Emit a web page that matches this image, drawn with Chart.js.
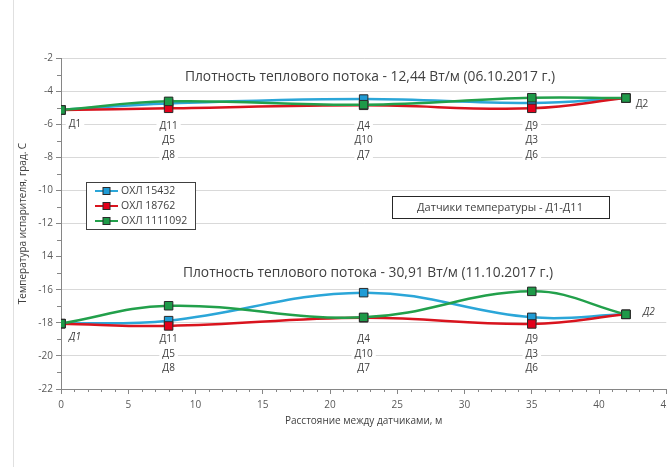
<!DOCTYPE html>
<html>
<head>
<meta charset="utf-8">
<script src="https://cdn.jsdelivr.net/npm/chart.js@4/dist/chart.umd.min.js"></script>
<style>
  html, body { margin: 0; padding: 0; background: #fff; overflow: hidden; }
</style>
</head>
<body>
<canvas id="chart" width="677" height="467"></canvas>
<script>
// distances between sensors, m
const distances = [0, 8, 22.5, 35, 42];

// 06.10.2017
const top15432 = [-5.14, -4.75, -4.48, -4.72, -4.42];
const top18762 = [-5.14, -5.04, -4.86, -5.04, -4.42];
const top1111092 = [-5.14, -4.62, -4.82, -4.40, -4.42];

// 11.10.2017
const low15432 = [-18.05, -17.87, -16.18, -17.67, -17.49];
const low18762 = [-18.05, -18.19, -17.70, -18.07, -17.49];
const low1111092 = [-18.05, -16.97, -17.67, -16.10, -17.49];

const seriesNames = ['ОХЛ 15432', 'ОХЛ 18762', 'ОХЛ 1111092'];

const sensorLabels = [['Д1'], ['Д11', 'Д5', 'Д8'], ['Д4', 'Д10', 'Д7'], ['Д9', 'Д3', 'Д6'], ['Д2']];

const titleTop = 'Плотность теплового потока - 12,44 Вт/м (06.10.2017 г.)';
const titleLow = 'Плотность теплового потока - 30,91 Вт/м (11.10.2017 г.)';
const noteText = 'Датчики температуры - Д1-Д11';

const lineColors = ['#2ba6d8', '#d9141e', '#22a04b'];
const markColors = ['#1f9bd5', '#e3001b', '#1e9a48'];
const FONT = "'Open Sans', 'Noto Sans', sans-serif";

function pts(vals) {
    return vals.map((v, i) => ({ x: distances[i], y: v }));
}

function ds(vals, k) {
    return {
        label: seriesNames[k],
        data: pts(vals),
        borderColor: lineColors[k],
        backgroundColor: markColors[k],
        borderWidth: 2.5,
        tension: 0.4,
        pointStyle: 'rect',
        pointRadius: 6,
        pointBorderColor: '#2a2a2a',
        pointBorderWidth: 1,
        order: 3 - k,
        fill: false
    };
}

const extras = {
    id: 'extras',
    afterDatasetsDraw(chart) {
        const ctx = chart.ctx;
        const xs = chart.scales.x;
        const ys = chart.scales.y;
        const area = chart.chartArea;

        // minor ticks
        ctx.save();
        ctx.strokeStyle = '#868686';
        ctx.lineWidth = 1;
        ctx.beginPath();
        for (let v = -3; v >= -21; v -= 2) {
            const py = Math.round(ys.getPixelForValue(v)) + 0.5;
            ctx.moveTo(area.left - 4, py);
            ctx.lineTo(area.left, py);
        }
        for (let v = 1; v <= 45; v++) {
            if (v % 5 === 0) continue;
            const px = Math.round(xs.getPixelForValue(v)) + 0.5;
            ctx.moveTo(px, area.bottom);
            ctx.lineTo(px, area.bottom + 3);
        }
        ctx.stroke();
        ctx.restore();

        // sensor labels
        function label(text, x, y, italic) {
            ctx.font = (italic ? 'italic ' : '') + '10px ' + FONT;
            const w = ctx.measureText(text).width;
            ctx.fillStyle = '#fff';
            ctx.fillRect(x - w / 2 - 3, y - 6, w + 6, 12);
            ctx.fillStyle = '#404040';
            ctx.textAlign = 'center';
            ctx.textBaseline = 'middle';
            ctx.fillText(text, x, y);
        }
        const groups = [
            { sets: [top15432, top18762, top1111092], low: false },
            { sets: [low15432, low18762, low1111092], low: true }
        ];
        ctx.save();
        groups.forEach(g => {
            const yStart = ys.getPixelForValue(g.sets[0][0]);
            distances.forEach((d, i) => {
                const px = xs.getPixelForValue(d);
                const vals = g.sets.map(s => s[i]);
                const yMax = ys.getPixelForValue(Math.max(...vals));
                const lines = sensorLabels[i];
                if (i === 0) {
                    label(lines[0], px + 14, yStart + 14, g.low);
                } else if (i === distances.length - 1) {
                    if (g.low) label(lines[0], px + 23, yMax - 2, true);
                    else label(lines[0], px + 16, yMax + 6, false);
                } else {
                    lines.forEach((t, j) => label(t, px, yStart + 16 + j * 14.5, false));
                }
            });
        });
        ctx.restore();
    },
    afterDraw(chart) {
        const ctx = chart.ctx;
        ctx.save();

        // chart area border on the left
        ctx.strokeStyle = '#e0e0e0';
        ctx.lineWidth = 1;
        ctx.beginPath();
        ctx.moveTo(13.5, 0);
        ctx.lineTo(13.5, 467);
        ctx.stroke();

        // titles
        ctx.fillStyle = '#404040';
        ctx.font = '13.8px ' + FONT;
        ctx.textAlign = 'center';
        ctx.textBaseline = 'middle';
        ctx.fillText(titleTop, 370, 77);
        ctx.fillText(titleLow, 368, 273);

        // legend
        ctx.fillStyle = '#fff';
        ctx.fillRect(86, 182, 109, 47);
        ctx.strokeStyle = '#404040';
        ctx.strokeRect(86.5, 182.5, 109, 47);
        const rows = [191, 206, 221];
        seriesNames.forEach((n, k) => {
            const y = rows[k];
            ctx.strokeStyle = lineColors[k];
            ctx.lineWidth = 2;
            ctx.beginPath();
            ctx.moveTo(95, y);
            ctx.lineTo(118, y);
            ctx.stroke();
            ctx.fillStyle = markColors[k];
            ctx.fillRect(103, y - 3.5, 7, 7);
            ctx.strokeStyle = '#2a2a2a';
            ctx.lineWidth = 1;
            ctx.strokeRect(103, y - 3.5, 7, 7);
            ctx.fillStyle = '#404040';
            ctx.font = '10.5px ' + FONT;
            ctx.textAlign = 'left';
            ctx.textBaseline = 'middle';
            ctx.fillText(n, 121, y);
        });

        // note box
        ctx.fillStyle = '#fff';
        ctx.fillRect(392, 196, 217, 22);
        ctx.strokeStyle = '#262626';
        ctx.lineWidth = 1;
        ctx.strokeRect(392.5, 196.5, 217, 22);
        ctx.fillStyle = '#404040';
        ctx.font = '11px ' + FONT;
        ctx.textAlign = 'center';
        ctx.fillText(noteText, 500, 207.5);

        ctx.restore();
    }
};

new Chart(document.getElementById('chart'), {
    type: 'line',
    data: {
        datasets: [
            ds(top15432, 0), ds(top18762, 1), ds(top1111092, 2),
            ds(low15432, 0), ds(low18762, 1), ds(low1111092, 2)
        ]
    },
    options: {
        responsive: false,
        animation: false,
        devicePixelRatio: 1,
        layout: { padding: { top: 58, right: 2, left: 0, bottom: 0 } },
        plugins: {
            legend: { display: false },
            tooltip: { enabled: false }
        },
        scales: {
            x: {
                type: 'linear',
                min: 0,
                max: 45,
                ticks: {
                    stepSize: 5,
                    padding: 5,
                    color: '#595959',
                    font: { family: FONT, size: 10 },
                    maxRotation: 0
                },
                grid: {
                    drawOnChartArea: false,
                    tickLength: 5,
                    tickColor: '#868686'
                },
                border: { color: '#868686' },
                title: {
                    display: true,
                    text: 'Расстояние между датчиками, м',
                    color: '#404040',
                    font: { family: FONT, size: 10 },
                    padding: { top: 4, bottom: 40 }
                },
                afterFit(scale) {
                    scale.height = 78;
                }
            },
            y: {
                min: -22,
                max: -2,
                ticks: {
                    stepSize: 2,
                    padding: 3,
                    color: '#595959',
                    font: { family: FONT, size: 10 },
                    callback: v => (v === -14 ? '14' : String(v))
                },
                grid: {
                    color: ctx => (ctx.tick && ctx.tick.value === -14 ? 'rgba(0,0,0,0)' : '#d9d9d9'),
                    tickLength: 5,
                    tickColor: '#868686'
                },
                border: { color: '#868686' },
                title: {
                    display: true,
                    text: 'Температура испарителя, град. С',
                    color: '#404040',
                    font: { family: FONT, size: 10 },
                    padding: { top: 17, bottom: 4 }
                },
                afterFit(scale) {
                    scale.width = 61;
                }
            }
        }
    },
    plugins: [extras]
});
</script>
</body>
</html>
